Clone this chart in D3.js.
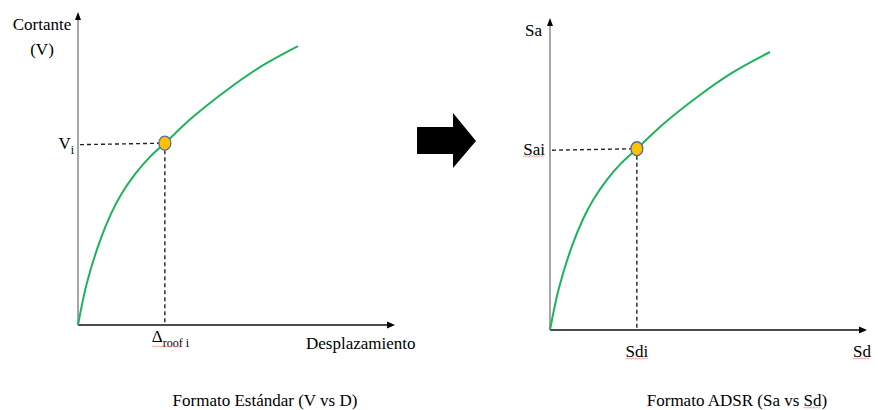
<!DOCTYPE html>
<html>
<head>
<meta charset="utf-8">
<script src="https://cdn.jsdelivr.net/npm/d3@7"></script>
<style>
  html, body { margin: 0; padding: 0; background: #fff; }
  svg { display: block; }
</style>
</head>
<body>
<svg id="chart" width="878" height="410"></svg>
<script>
// Capacity curve (same shape in both formats), in percent of the axis extent
const curveX = [0, 2.8, 6.9, 10.4, 13.6, 18.0, 22.4, 27.4, 36.3, 47.0, 57.4, 69.4];
const curveY = [0, 13.4, 26.8, 35.5, 41.7, 48.2, 53.4, 58.1, 66.5, 75.1, 82.4, 89.1];

// Highlighted performance point on the curve
const pointX = 27.4;
const pointY = 58.1;

// Panel texts
const panelTitles = ["Formato Estándar (V vs D)", "Formato ADSR (Sa vs Sd)"];
const yAxisNames = [["Cortante", "(V)"], ["Sa"]];
const xAxisNames = ["Desplazamiento", "Sd"];

const svg = d3.select("#chart");
const green = "#1db35a";

const panels = [
  { ox: 78, oy: 325, w: 317, h: 313 },
  { ox: 550, oy: 330, w: 317, h: 312 }
];

const pts = curveX.map((x, i) => [x, curveY[i]]);
const underlined = [];   // text runs that get a spell-check squiggle

function label(g, x, y, size) {
  return g.append("text").attr("x", x).attr("y", y)
    .style("font-family", '"Liberation Serif"')
    .attr("font-size", size);
}

// Red spell-check squiggle under a run of text
function squiggle(x0, x1, y) {
  let d = `M${x0},${y}`;
  let up = true;
  for (let x = x0 + 1.5; x <= x1; x += 1.5) {
    d += `L${x},${y + (up ? -1 : 0)}`;
    up = !up;
  }
  svg.append("path").attr("d", d).attr("fill", "none")
    .attr("stroke", "#e05050").attr("stroke-width", 0.7).attr("opacity", 0.8);
}
function squiggleUnder(textNode, start, n, dy) {
  const x0 = textNode.getStartPositionOfChar(start).x;
  const len = textNode.getSubStringLength(start, n);
  const bb = textNode.getBBox();
  squiggle(x0, x0 + len, bb.y + bb.height + (dy || 0));
}

panels.forEach((p, k) => {
  const x = d3.scaleLinear().domain([0, 100]).range([p.ox, p.ox + p.w]);
  const y = d3.scaleLinear().domain([0, 100]).range([p.oy, p.oy - p.h]);
  const g = svg.append("g");

  // y axis (gray) with black arrow head
  g.append("line")
    .attr("x1", x(0)).attr("x2", x(0))
    .attr("y1", y(0)).attr("y2", y(100) + 7)
    .attr("stroke", "#a6a6a6").attr("stroke-width", 2);
  g.append("path")
    .attr("d", d3.line()([[x(0) - 3, y(100) + 8], [x(0), y(100)], [x(0) + 3, y(100) + 8]]) + "Z")
    .attr("fill", "#000");

  // x axis (black) with arrow head
  g.append("line")
    .attr("x1", x(0)).attr("x2", x(100) - 7)
    .attr("y1", y(0)).attr("y2", y(0))
    .attr("stroke", "#111").attr("stroke-width", 1.3);
  g.append("path")
    .attr("d", d3.line()([[x(100) - 8, y(0) - 3.5], [x(100), y(0)], [x(100) - 8, y(0) + 3.5]]) + "Z")
    .attr("fill", "#000");

  // Dashed guides to the point
  g.append("path")
    .attr("d", d3.line()([[x(0) + 2, y(pointY) + 1.5], [x(pointX), y(pointY)]]))
    .attr("stroke", "#222").attr("stroke-width", 1.4).attr("stroke-dasharray", "4,3").attr("fill", "none");
  g.append("path")
    .attr("d", d3.line()([[x(pointX), y(pointY)], [x(pointX), y(0)]]))
    .attr("stroke", "#222").attr("stroke-width", 1.4).attr("stroke-dasharray", "4,3").attr("fill", "none");

  // Capacity curve
  g.append("path")
    .datum(pts)
    .attr("d", d3.line().x(d => x(d[0])).y(d => y(d[1])).curve(d3.curveCatmullRom.alpha(0.5)))
    .attr("fill", "none").attr("stroke", green).attr("stroke-width", 2);

  // Point marker
  g.append("ellipse")
    .attr("cx", x(pointX)).attr("cy", y(pointY))
    .attr("rx", 6).attr("ry", 7)
    .attr("fill", "#ffc000").attr("stroke", "#4a6fa5").attr("stroke-width", 1.3);

  // Panel title
  const title = label(g, p.ox + 187, 406, 17)
    .attr("text-anchor", "middle")
    .text(panelTitles[k]);

  if (k === 0) {
    // Y axis name
    label(g, 42, 30, 17).attr("text-anchor", "middle").text(yAxisNames[0][0]);
    label(g, 42, 55, 17).attr("text-anchor", "middle").text(yAxisNames[0][1]);
    // Y tick label V_i
    const vi = label(g, x(0) - 4, y(pointY) + 6, 17).attr("text-anchor", "end");
    vi.append("tspan").text("V");
    vi.append("tspan").attr("font-size", 12).attr("dy", 5).text("i");
    // X tick label Δ_roof i
    const dl = label(g, x(pointX) - 13, y(0) + 17, 17);
    dl.append("tspan").text("Δ");
    dl.append("tspan").attr("font-size", 12).attr("dy", 5).text("roof i");
    underlined.push([dl.node(), 0, 5, -3]);
    // X axis name
    label(g, 306, 349, 17).text(xAxisNames[0]);
  } else {
    label(g, 525, 36, 17).text(yAxisNames[1][0]);
    const sai = label(g, x(0) - 5, y(pointY) + 6, 17)
      .attr("text-anchor", "end").text("Sai");
    underlined.push([sai.node(), 0, 3, -2]);
    const sdi = label(g, x(pointX), y(0) + 27, 17)
      .attr("text-anchor", "middle").text("Sdi");
    underlined.push([sdi.node(), 0, 3, -2]);
    const sd = label(g, 853, 357, 17).text(xAxisNames[1]);
    underlined.push([sd.node(), 0, 2, -2]);
    underlined.push([title.node(), 20, 2, -2]);
  }
});

// Transformation arrow between the two panels
svg.append("path")
  .attr("d", d3.line()([[417, 127], [453, 127], [453, 113], [476, 141], [453, 168], [453, 154], [417, 154]]) + "Z")
  .attr("fill", "#000");

// Measure text only once the fonts are ready
document.fonts.ready.then(() => {
  underlined.forEach(u => squiggleUnder(...u));
});
</script>
</body>
</html>
